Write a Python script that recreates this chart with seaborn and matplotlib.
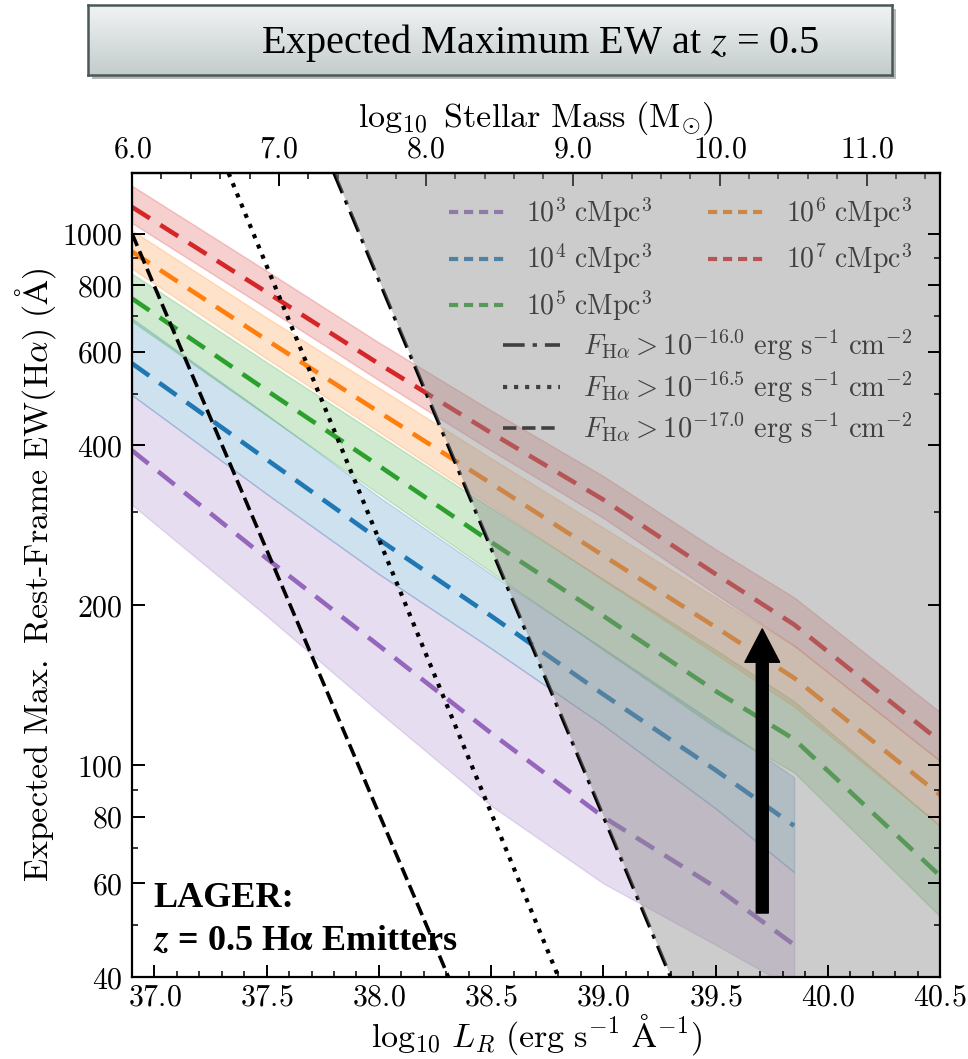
import numpy as np
import pandas as pd
import matplotlib
matplotlib.use("Agg")
import matplotlib.pyplot as plt
import seaborn as sns
from matplotlib.ticker import FixedLocator, FuncFormatter, NullFormatter, MultipleLocator
from matplotlib.lines import Line2D
from matplotlib.patches import Rectangle, FancyArrowPatch
from matplotlib.colors import LinearSegmentedColormap

# ---------------------------------------------------------------------------
# Data: expected maximum rest-frame EW(Halpha) vs log10 L_R for survey volumes
# ---------------------------------------------------------------------------
L_full = [36.9, 37.5, 38.0, 38.5, 39.0, 39.5, 39.85, 40.5]
L_short = [36.9, 37.5, 38.0, 38.5, 39.0, 39.5, 39.85]

ew_1e3 = [391, 245, 168, 115, 80, 59, 46]
ew_1e3_hi = [497, 324, 229, 166, 119, 83, 63]
ew_1e3_lo = [309, 191, 126, 84, 60, 46, 38]

ew_1e4 = [570, 376, 266, 191, 136, 98, 77]
ew_1e4_hi = [693, 457, 320, 229, 166, 120, 95]
ew_1e4_lo = [497, 324, 229, 166, 119, 83, 63]

ew_1e5 = [755, 507, 366, 263, 191, 138, 112, 62]
ew_1e5_hi = [841, 573, 418, 305, 224, 165, 132, 77]
ew_1e5_lo = [684, 455, 324, 231, 165, 118, 97, 52]

ew_1e6 = [925, 631, 462, 339, 248, 182, 146, 88]
ew_1e6_hi = [1014, 695, 513, 378, 280, 207, 168, 102]
ew_1e6_lo = [859, 582, 424, 308, 223, 162, 129, 77]

ew_1e7 = [1122, 776, 569, 422, 316, 229, 184, 111]
ew_1e7_hi = [1230, 851, 624, 465, 350, 255, 207, 126]
ew_1e7_lo = [1047, 724, 530, 391, 292, 210, 168, 102]

volume_exponents = ["3", "4", "5", "6", "7"]
volume_colors = ["#9467bd", "#1f77b4", "#2ca02c", "#ff7f0e", "#d62728"]

# Line-flux limits (straight lines in log EW vs log L)
lim_160_L = [37.80, 39.30]
lim_160_EW = [1300, 40]
lim_165_L = [37.33, 38.80]
lim_165_EW = [1300, 40]
lim_170_L = [36.90, 38.31]
lim_170_EW = [1000, 40]
flux_exponents = ["-16.0", "-16.5", "-17.0"]

x_ticks = [37.0, 37.5, 38.0, 38.5, 39.0, 39.5, 40.0, 40.5]
mass_ticks = [6.0, 7.0, 8.0, 9.0, 10.0, 11.0]
y_ticks = [40, 60, 80, 100, 200, 400, 600, 800, 1000]
y_minor = [50, 70, 90, 300, 500, 700, 900]

X_MIN, X_MAX = 36.9, 40.5
Y_MIN, Y_MAX = 40, 1300
M_MIN, M_MAX = 6.0, 11.5

# ---------------------------------------------------------------------------
sns.set_style("ticks")
plt.rcParams.update({
    "mathtext.fontset": "cm",
    "font.family": ["DejaVu Serif"],
    "xtick.direction": "in",
    "ytick.direction": "in",
    "text.color": "black",
    "axes.labelcolor": "black",
    "xtick.color": "black",
    "ytick.color": "black",
})

fig = plt.figure(figsize=(9.68, 10.59), dpi=100)
fig.patch.set_facecolor("white")
ax = fig.add_axes([0.1364, 0.0774, 0.8347, 0.7592])
ax.set_yscale("log")

series = [
    (L_short, ew_1e3, ew_1e3_lo, ew_1e3_hi),
    (L_short, ew_1e4, ew_1e4_lo, ew_1e4_hi),
    (L_full, ew_1e5, ew_1e5_lo, ew_1e5_hi),
    (L_full, ew_1e6, ew_1e6_lo, ew_1e6_hi),
    (L_full, ew_1e7, ew_1e7_lo, ew_1e7_hi),
]
dash = (0, (4.6, 2.7))
for (L, mid, lo, hi), col in zip(series, volume_colors):
    ax.fill_between(L, lo, hi, color=col, alpha=0.22, lw=1.0, zorder=1)
for (L, mid, lo, hi), col, ex in zip(series, volume_colors, volume_exponents):
    df = pd.DataFrame({"L": L, "EW": mid})
    sns.lineplot(data=df, x="L", y="EW", ax=ax, color=col, lw=3.3,
                 linestyle=dash, legend=False, zorder=2)

# flux-limit lines
ax.plot(lim_160_L, lim_160_EW, color="black", lw=2.6, linestyle=(0, (6, 2.2, 1.2, 2.2)), zorder=3)
ax.plot(lim_165_L, lim_165_EW, color="black", lw=3.0, linestyle=":", zorder=3)
ax.plot(lim_170_L, lim_170_EW, color="black", lw=2.6, linestyle="--", zorder=3)

# region excluded by the brightest flux limit
ax.fill_betweenx(lim_160_EW, lim_160_L, X_MAX, color="#8f8f8f", alpha=0.45,
                 lw=0, zorder=6)

ax.set_xlim(X_MIN, X_MAX)
ax.set_ylim(Y_MIN, Y_MAX)

# axes styling
tick_fs = 21.5
ax.xaxis.set_major_locator(FixedLocator(x_ticks))
ax.xaxis.set_minor_locator(MultipleLocator(0.1))
ax.xaxis.set_major_formatter(FuncFormatter(lambda v, p: f"${v:.1f}$"))
ax.yaxis.set_major_locator(FixedLocator(y_ticks))
ax.yaxis.set_minor_locator(FixedLocator(y_minor))
ax.yaxis.set_major_formatter(FuncFormatter(lambda v, p: f"${v:g}$"))
ax.yaxis.set_minor_formatter(NullFormatter())
ax.tick_params(axis="both", which="major", length=9, width=1.4,
               labelsize=tick_fs, pad=7, color="black", labelcolor="black")
ax.tick_params(axis="x", which="major", pad=5)
ax.tick_params(axis="both", which="minor", length=4.5, width=1.1, color="black")
ax.tick_params(axis="y", which="both", left=True, right=True)
ax.tick_params(axis="x", which="both", bottom=True, top=False)
for s in ax.spines.values():
    s.set_linewidth(1.6)
    s.set_color("black")
    s.set_zorder(8)
ax.xaxis.set_zorder(8)
ax.yaxis.set_zorder(8)

ax.set_xlabel(r"$\log_{10}\,L_R\ (\mathrm{erg\ s^{-1}\ \AA^{-1}})$", fontsize=24.5)
ax.xaxis.set_label_coords(0.5, -0.044)
ax.set_ylabel(r"$\mathrm{Expected\ Max.\ }\text{Rest-Frame}\mathrm{\ EW(H}\alpha\mathrm{)\ (\AA)}$",
              fontsize=24.5, labelpad=3)


def lum_to_mass(x):
    return M_MIN + (np.asarray(x) - X_MIN) * (M_MAX - M_MIN) / (X_MAX - X_MIN)


def mass_to_lum(m):
    return X_MIN + (np.asarray(m) - M_MIN) * (X_MAX - X_MIN) / (M_MAX - M_MIN)


secax = ax.secondary_xaxis("top", functions=(lum_to_mass, mass_to_lum))
secax.xaxis.set_major_locator(FixedLocator(mass_ticks))
secax.xaxis.set_minor_locator(MultipleLocator(0.2))
secax.xaxis.set_major_formatter(FuncFormatter(lambda v, p: f"${v:.1f}$"))
secax.tick_params(axis="x", which="major", direction="in", length=9, width=1.4,
                  labelsize=tick_fs, pad=7, color="black", labelcolor="black")
secax.tick_params(axis="x", which="minor", direction="in", length=4.5, width=1.1)
secax.spines["top"].set_linewidth(1.6)
secax.set_xlabel(r"$\log_{10}\ \mathrm{Stellar\ Mass\ (M_{\odot})}$", fontsize=24.5, labelpad=6)

# legends
vol_handles = [Line2D([], [], color=c, lw=3.0, linestyle=(0, (2.2, 1.4)))
               for c in volume_colors]
vol_labels = [rf"$10^{{{e}}}\ \mathrm{{cMpc}}^{{3}}$" for e in volume_exponents]
leg1 = ax.legend(vol_handles, vol_labels, ncol=2, loc="upper right",
                 bbox_to_anchor=(0.966, 0.972), frameon=False, fontsize=20,
                 borderpad=0, borderaxespad=0, handlelength=2.0,
                 handletextpad=0.8, columnspacing=2.0, labelspacing=0.42)
leg1.set_zorder(5)
ax.add_artist(leg1)

flux_handles = [
    Line2D([], [], color="black", lw=2.6, linestyle=(0, (6, 2.2, 1.2, 2.2))),
    Line2D([], [], color="black", lw=3.0, linestyle=":"),
    Line2D([], [], color="black", lw=2.6, linestyle="--"),
]
flux_labels = [rf"$F_{{\mathrm{{H}}\alpha}} > 10^{{{e}}}\ \mathrm{{erg\ s^{{-1}}\ cm^{{-2}}}}$"
               for e in flux_exponents]
leg2 = ax.legend(flux_handles, flux_labels, loc="upper right",
                 bbox_to_anchor=(0.966, 0.807), frameon=False, fontsize=20.5,
                 borderpad=0, borderaxespad=0, handlelength=2.0,
                 handletextpad=0.8, labelspacing=0.22)
leg2.set_zorder(5)

# survey annotation and arrow
ax.text(0.026, 0.087, "LAGER:", transform=ax.transAxes, fontsize=26,
        fontweight="bold", family="Liberation Serif", va="baseline",
        color="black", zorder=10)
ax.text(0.026, 0.034, r"$\mathbfit{z}$ = 0.5 H$\mathbf{\alpha}$ Emitters",
        transform=ax.transAxes, fontsize=26, fontweight="bold", color="black",
        family="Liberation Serif", math_fontfamily="stix", va="baseline", zorder=10)

arrow = FancyArrowPatch((0.78, 0.0796), (0.78, 0.433), transform=ax.transAxes,
                        arrowstyle="simple,head_length=24,head_width=25,tail_width=8.6",
                        mutation_scale=1, color="black", shrinkA=0, shrinkB=0, zorder=10)
ax.add_patch(arrow)

# title box
bx, by, bw, bh = 88 / 968, 1 - 75 / 1059, 804 / 968, 70 / 1059
shadow = Rectangle((bx + 4 / 968, by - 4 / 1059), bw, bh, transform=fig.transFigure,
                   facecolor="#7d7d7d", alpha=0.55, lw=0, zorder=-1)
fig.patches.append(shadow)
tax = fig.add_axes([bx, by, bw, bh])
grad_cmap = LinearSegmentedColormap.from_list("box", ["#f0f3f3", "#c4cdcc"])
tax.imshow(np.linspace(0, 1, 64).reshape(-1, 1), cmap=grad_cmap, aspect="auto",
           extent=[0, 1, 0, 1])
tax.set_xticks([])
tax.set_yticks([])
for s in tax.spines.values():
    s.set_color("#4a5858")
    s.set_linewidth(1.8)
tax.text(0.563, 0.46, r"Expected Maximum EW at $z$ = 0.5", ha="center", va="center",
         fontsize=29, family="Liberation Serif", math_fontfamily="stix",
         color="black", transform=tax.transAxes)

fig.savefig("out.png", dpi=100, facecolor="white")
